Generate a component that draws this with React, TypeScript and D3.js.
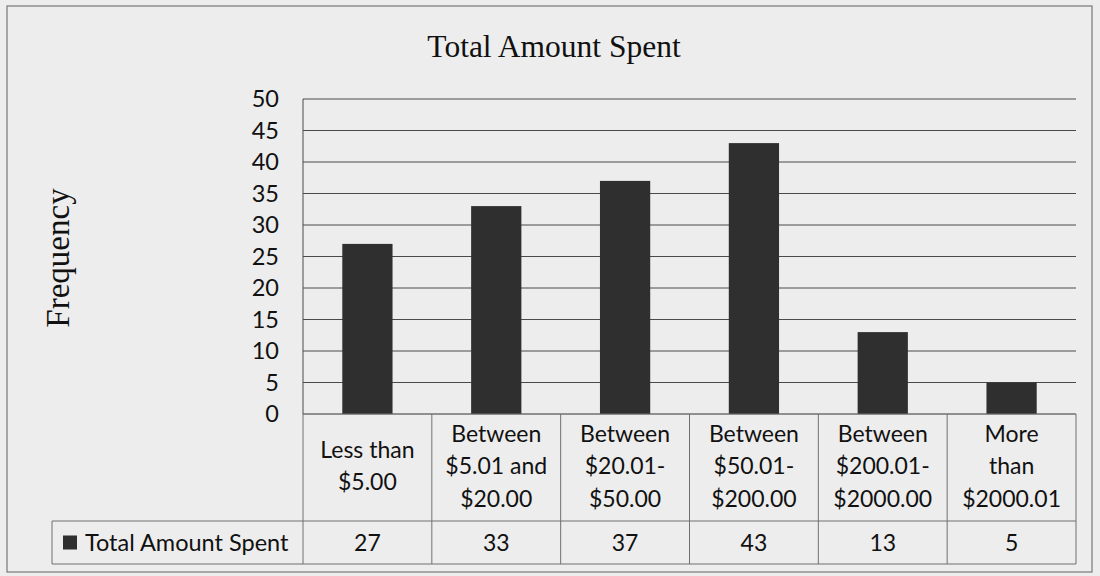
import React from "react";
import * as d3 from "d3";

const title = "Total Amount Spent";
const yAxisTitle = "Frequency";
const seriesName = "Total Amount Spent";
const categories = [
  "Less than $5.00",
  "Between $5.01 and $20.00",
  "Between $20.01-$50.00",
  "Between $50.01-$200.00",
  "Between $200.01-$2000.00",
  "More than $2000.01",
];
const categoryLines = [
  ["Less than", "$5.00"],
  ["Between", "$5.01 and", "$20.00"],
  ["Between", "$20.01-", "$50.00"],
  ["Between", "$50.01-", "$200.00"],
  ["Between", "$200.01-", "$2000.00"],
  ["More", "than", "$2000.01"],
];
const values = [27, 33, 37, 43, 13, 5];
const yTicks = [0, 5, 10, 15, 20, 25, 30, 35, 40, 45, 50];

const W = 1100;
const H = 576;
const plotLeft = 303;
const plotRight = 1076;
const plotTop = 99;
const plotBottom = 414;
const rowDivider = 521;
const tableBottom = 564;
const legendLeft = 52;

const bodyFont = "Lato, 'Open Sans', sans-serif";
const serif = "'Liberation Serif', 'DejaVu Serif', serif";

export default function App() {
  const x = d3.scaleBand<string>().domain(categories).range([plotLeft, plotRight]).padding(0);
  const y = d3.scaleLinear().domain([0, 50]).range([plotBottom, plotTop]);
  const barW = x.bandwidth() * 0.39;
  const lineH = 32.5;
  const catCenter = 466;
  const valBase = (rowDivider + tableBottom) / 2 + 8;
  const gridColor = "#4a4a4a";
  const tableColor = "#707070";

  return (
    <svg
      width={W}
      height={H}
      style={{ position: "absolute", left: 0, top: 0, background: "#ededed" }}
    >
      <rect x={0} y={0} width={W} height={H} fill="#ededed" />
      <rect x={7} y={6} width={1085} height={566} fill="none" stroke="#777" strokeWidth={1.2} />

      {/* title */}
      <text x={554} y={57} textAnchor="middle" fontFamily={serif} fontSize={31.5} fill="#111">
        {title}
      </text>
      <text
        transform={`translate(69,258) rotate(-90)`}
        textAnchor="middle"
        fontFamily={serif}
        fontSize={33}
        fill="#111"
      >
        {yAxisTitle}
      </text>

      {/* gridlines */}
      {yTicks.map((t) => (
        <line
          key={t}
          x1={plotLeft}
          x2={plotRight}
          y1={y(t)}
          y2={y(t)}
          stroke={t === 0 ? tableColor : gridColor}
          strokeWidth={1}
        />
      ))}
      {yTicks.map((t) => (
        <text
          key={"l" + t}
          x={279}
          y={y(t)}
          dy="0.35em"
          textAnchor="end"
          fontFamily={bodyFont}
          fontSize={23.5}
          fill="#111"
        >
          {t}
        </text>
      ))}
      <line x1={plotLeft} x2={plotLeft} y1={plotTop} y2={plotBottom} stroke={gridColor} strokeWidth={1} />

      {/* bars */}
      {categories.map((c, i) => (
        <rect
          key={c}
          x={(x(c) as number) + x.bandwidth() / 2 - barW / 2}
          y={y(values[i])}
          width={barW}
          height={y(0) - y(values[i])}
          fill="#2f2f2f"
        />
      ))}

      {/* data table */}
      <line x1={plotLeft} x2={plotRight} y1={plotBottom} y2={plotBottom} stroke={tableColor} />
      <line x1={legendLeft} x2={plotRight} y1={rowDivider} y2={rowDivider} stroke={tableColor} />
      <line x1={legendLeft} x2={plotRight} y1={tableBottom} y2={tableBottom} stroke={tableColor} />
      <line x1={legendLeft} x2={legendLeft} y1={rowDivider} y2={tableBottom} stroke={tableColor} />
      {categories.map((c) => (
        <line
          key={"v" + c}
          x1={x(c) as number}
          x2={x(c) as number}
          y1={plotBottom}
          y2={tableBottom}
          stroke={tableColor}
        />
      ))}
      <line x1={plotRight} x2={plotRight} y1={plotBottom} y2={tableBottom} stroke={tableColor} />

      {categories.map((c, i) => {
        const lines = categoryLines[i];
        const n = lines.length;
        const cx = (x(c) as number) + x.bandwidth() / 2;
        return (
          <g key={"c" + c}>
            {lines.map((ln, j) => (
              <text
                key={j}
                x={cx}
                y={catCenter + (j - (n - 1) / 2) * lineH + 8}
                textAnchor="middle"
                fontFamily={bodyFont}
                fontSize={23}
                fill="#111"
              >
                {ln}
              </text>
            ))}
            <text
              x={cx}
              y={valBase}
              textAnchor="middle"
              fontFamily={bodyFont}
              fontSize={23}
              fill="#111"
            >
              {values[i]}
            </text>
          </g>
        );
      })}

      {/* legend key */}
      <rect x={63} y={(rowDivider + tableBottom) / 2 - 7} width={14} height={14} fill="#2f2f2f" />
      <text x={85} y={valBase} fontFamily={bodyFont} fontSize={23.5} fill="#111">
        {seriesName}
      </text>
    </svg>
  );
}
